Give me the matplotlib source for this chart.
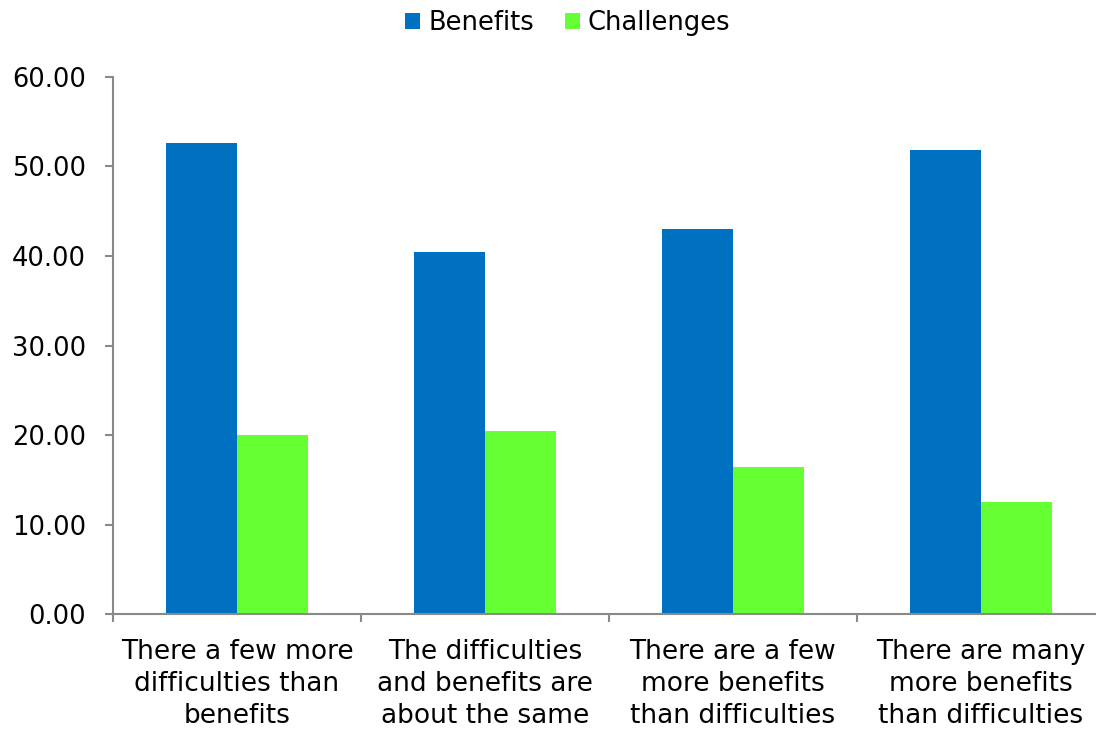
import matplotlib.pyplot as plt
import numpy as np

categories = ['There a few more\ndifficulties than\nbenefits',
              'The difficulties\nand benefits are\nabout the same',
              'There are a few\nmore benefits\nthan difficulties',
              'There are many\nmore benefits\nthan difficulties']
benefits = [52.63, 40.47, 42.97, 51.82]
challenges = [19.98, 20.46, 16.44, 12.50]
yticks = [0, 10, 20, 30, 40, 50, 60]

plt.rcParams['font.family'] = ['DejaVu Sans']

fig = plt.figure(figsize=(10.96, 7.29), dpi=100)
ax = fig.add_axes([0.1031, 0.1573, 0.9051, 0.7375])

x = np.arange(len(categories))
w = 0.286
ax.bar(x - w / 2, benefits, w, color='#0070C0', label='Benefits')
ax.bar(x + w / 2, challenges, w, color='#66FF33', label='Challenges')

ax.set_xlim(-0.5, 3.5)
ax.set_ylim(0, 60)
ax.set_yticks(yticks)
ax.set_yticklabels(['%.2f' % v for v in yticks])

# category boundaries as major ticks, labels on minor ticks
ax.set_xticks(np.arange(-0.5, 3.6, 1.0))
ax.set_xticklabels([])
ax.set_xticks(x, minor=True)
ax.set_xticklabels(categories, minor=True, fontsize=19, linespacing=1.3)
ax.tick_params(axis='x', which='minor', length=0, pad=18)
ax.tick_params(axis='x', which='major', length=6, width=1.5, color='#898989')
ax.tick_params(axis='y', length=5.5, width=1.5, color='#898989', labelsize=18.5, pad=14)

for s in ['top', 'right']:
    ax.spines[s].set_visible(False)
for s in ['left', 'bottom']:
    ax.spines[s].set_color('#898989')
    ax.spines[s].set_linewidth(1.5)

fig.legend(loc='center', bbox_to_anchor=(0.518, 0.968), ncol=2, frameon=False,
           fontsize=18.5, handlelength=0.6, handleheight=0.6, handletextpad=0.3,
           columnspacing=1.2)

fig.savefig('out.png', dpi=100)
